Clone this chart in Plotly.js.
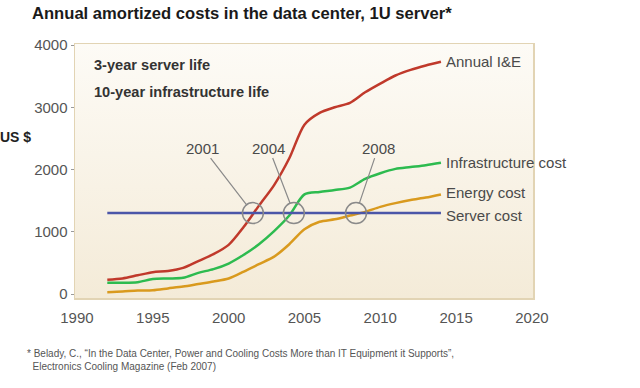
<!DOCTYPE html>
<html>
<head>
<meta charset="utf-8">
<script src="https://cdn.plot.ly/plotly-3.0.1.min.js"></script>
<style>
  html, body { margin: 0; padding: 0; background: #ffffff; }
  #chart { width: 640px; height: 388px; }
</style>
</head>
<body>
<div id="chart"></div>
<script>
// ---- data ----
var years = [1992, 1993, 1994, 1995, 1996, 1997, 1998, 1999, 2000, 2001, 2002, 2003,
             2004, 2005, 2006, 2007, 2008, 2009, 2010, 2011, 2012, 2013, 2014];
var annualIE = [230, 250, 300, 350, 370, 420, 530, 640, 790, 1080, 1420, 1750,
                2180, 2720, 2910, 3000, 3070, 3240, 3380, 3510, 3600, 3670, 3730];
var infrastructureCost = [180, 180, 190, 240, 250, 260, 340, 400, 490, 630, 800, 1010,
                          1260, 1600, 1640, 1670, 1710, 1850, 1940, 2010, 2040, 2070, 2110];
var energyCost = [30, 40, 55, 60, 90, 120, 160, 200, 250, 360, 480, 600,
                  800, 1040, 1160, 1200, 1260, 1320, 1400, 1460, 1510, 1550, 1600];
var serverCost = [1300, 1300, 1300, 1300, 1300, 1300, 1300, 1300, 1300, 1300, 1300, 1300,
                  1300, 1300, 1300, 1300, 1300, 1300, 1300, 1300, 1300, 1300, 1300];
var seriesNames = ['Annual I&E', 'Infrastructure cost', 'Energy cost', 'Server cost'];
var crossLabels = ['2001', '2004', '2008'];
var crossYears = [2001.6, 2004.3, 2008.4];
var crossValue = 1300;
var xTicks = [1990, 1995, 2000, 2005, 2010, 2015, 2020];
var yTicks = [0, 1000, 2000, 3000, 4000];

// ---- styling ----
var FONT = 'Liberation Sans, Arial, sans-serif';
var colors = ['#c0392b', '#2dbb4f', '#d99a1e', '#4b56a8'];
var seriesData = [annualIE, infrastructureCost, energyCost, serverCost];

var traces = seriesData.map(function (vals, i) {
  return {
    x: years, y: vals, type: 'scatter', mode: 'lines', name: seriesNames[i],
    line: { color: colors[i], width: 2.5, shape: i === 3 ? 'linear' : 'spline', smoothing: 0.8 },
    hoverinfo: 'skip'
  };
});

var labelShift = [0, 0, 2, -2];
var annotations = seriesData.map(function (vals, i) {
  return {
    x: years[years.length - 1], y: vals[vals.length - 1], xref: 'x', yref: 'y',
    text: seriesNames[i], showarrow: false, xanchor: 'left', yanchor: 'middle',
    xshift: 3, yshift: labelShift[i],
    font: { family: FONT, size: 15, color: '#4a4a4a' }
  };
});

var axOff = [-50, -25, 22];
crossLabels.forEach(function (lab, i) {
  annotations.push({
    x: crossYears[i], y: crossValue, xref: 'x', yref: 'y', text: lab,
    showarrow: true, arrowhead: 0, arrowwidth: 1.2, arrowcolor: '#8a8a8a',
    ax: axOff[i], ay: -65, standoff: 10,
    font: { family: FONT, size: 15, color: '#4a4a4a' }
  });
});

annotations.push({
  x: 0.037, y: 0.917, xref: 'paper', yref: 'paper', text: '<b>3-year server life</b>',
  showarrow: false, xanchor: 'left', yanchor: 'middle',
  font: { family: FONT, size: 14.6, color: '#333333' }
});
annotations.push({
  x: 0.037, y: 0.811, xref: 'paper', yref: 'paper', text: '<b>10-year infrastructure life</b>',
  showarrow: false, xanchor: 'left', yanchor: 'middle',
  font: { family: FONT, size: 14.6, color: '#333333' }
});
annotations.push({
  x: 0, y: 0.634, xref: 'paper', yref: 'paper', text: '<b>US $</b>',
  showarrow: false, xanchor: 'right', yanchor: 'middle', xshift: -42,
  font: { family: FONT, size: 14, color: '#222222' }
});
annotations.push({
  x: -50 / 458, y: -48 / 254, xref: 'paper', yref: 'paper', text:
    '* Belady, C., \u201CIn the Data Center, Power and Cooling Costs More than IT Equipment it Supports\u201D,<br>  Electronics Cooling Magazine (Feb 2007)',
  showarrow: false, xanchor: 'left', yanchor: 'top', align: 'left',
  font: { family: FONT, size: 10, color: '#555555' }
});

var shapes = crossYears.map(function (cx) {
  return {
    type: 'circle', xref: 'x', yref: 'y', xsizemode: 'pixel', ysizemode: 'pixel',
    xanchor: cx, yanchor: crossValue, x0: -10.5, x1: 10.5, y0: -10.5, y1: 10.5,
    line: { color: '#8a8a8a', width: 1.5 }, fillcolor: 'rgba(0,0,0,0)'
  };
});

var bgSvg = 'data:image/svg+xml;utf8,' + encodeURIComponent(
  '<svg xmlns="http://www.w3.org/2000/svg" width="100" height="100" preserveAspectRatio="none">' +
  '<defs><linearGradient id="g" x1="0" y1="0" x2="0" y2="1">' +
  '<stop offset="0" stop-color="#fdfbf6"/><stop offset="1" stop-color="#f4ebd8"/>' +
  '</linearGradient></defs><rect width="100" height="100" fill="url(#g)"/></svg>');

var layout = {
  width: 640, height: 388,
  margin: { l: 75, r: 107, t: 44, b: 90, pad: 0 },
  paper_bgcolor: '#ffffff', plot_bgcolor: '#f9f4ea',
  showlegend: false,
  title: {
    text: '<b>Annual amortized costs in the data center, 1U server*</b>',
    x: 32 / 640, xanchor: 'left', xref: 'container',
    y: 1 - 13 / 388, yanchor: 'middle', yref: 'container',
    font: { family: FONT, size: 16.6, color: '#1a1a1a' }
  },
  xaxis: {
    range: [1989.87, 2020.07], tickvals: xTicks, ticktext: xTicks.map(String),
    showgrid: false, zeroline: false, showline: true, mirror: true,
    linecolor: '#e2d4b4', linewidth: 1.5, ticks: '', ticklabelstandoff: 5,
    tickfont: { family: FONT, size: 15, color: '#555555' }, fixedrange: true
  },
  yaxis: {
    range: [-64, 4016], tickvals: yTicks, ticktext: yTicks.map(String),
    showgrid: false, zeroline: false, showline: true, mirror: true,
    linecolor: '#e2d4b4', linewidth: 1.5, ticks: 'outside', ticklen: 3,
    tickcolor: '#9a9a9a', tickwidth: 1,
    tickfont: { family: FONT, size: 15, color: '#555555' }, fixedrange: true
  },
  images: [{
    source: bgSvg, xref: 'paper', yref: 'paper', x: 0, y: 1, sizex: 1, sizey: 1,
    sizing: 'stretch', layer: 'below', xanchor: 'left', yanchor: 'top'
  }],
  shapes: shapes,
  annotations: annotations
};

Plotly.newPlot('chart', traces, layout, { staticPlot: true, displayModeBar: false });
</script>
</body>
</html>
